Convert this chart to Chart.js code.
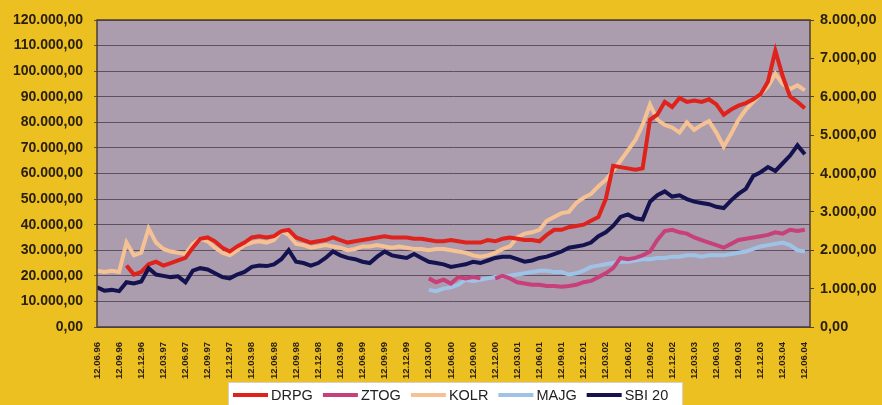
<!DOCTYPE html>
<html>
<head>
<meta charset="utf-8">
<script src="https://cdn.jsdelivr.net/npm/chart.js@4"></script>
<style>
  body { margin: 0; background: #ecc020; }
  #wrap { width: 882px; height: 405px; }
</style>
</head>
<body>
<div id="wrap"><canvas id="c" width="882" height="405"></canvas></div>
<script>
// quarterly tick labels, one every 3 months starting 12.06.96
var tickLabels = [
  '12.06.96','12.09.96','12.12.96','12.03.97','12.06.97','12.09.97','12.12.97',
  '12.03.98','12.06.98','12.09.98','12.12.98','12.03.99','12.06.99','12.09.99',
  '12.12.99','12.03.00','12.06.00','12.09.00','12.12.00','12.03.01','12.06.01',
  '12.09.01','12.12.01','12.03.02','12.06.02','12.09.02','12.12.02','12.03.03',
  '12.06.03','12.09.03','12.12.03','12.03.04','12.06.04'
];

// monthly values, index 0 = June 1996 (left axis)
var drpg = [
  null, null, null, null, 24000, 20500, 21500, 24500, 25500, 24000,
  25000, 26000, 27000, 31000, 34500, 35000, 33500, 31000, 29500, 31500,
  33000, 35000, 35500, 35000, 35500, 37500, 38000, 35000, 34000, 33000,
  33500, 34000, 35000, 34000, 33000, 33500, 34000, 34500, 35000, 35500,
  35000, 35000, 35000, 34500, 34500, 34000, 33500, 33500, 34000, 33500,
  33000, 33000, 33000, 34000, 33500, 34500, 35000, 34500, 34000, 34000,
  33500, 36000, 38000, 38000, 39000, 39500, 40000, 41500, 43000, 50000,
  63000, 62500, 62000, 61500, 62000, 81000, 83000, 88000, 86000, 89500,
  88000, 88500, 88000, 89000, 87000, 83000, 85000, 86500, 87500, 89000,
  91000, 96000, 108000, 98000, 90000, 88000, 85500
];
var ztog = [
  null, null, null, null, null, null, null, null, null, null,
  null, null, null, null, null, null, null, null, null, null,
  null, null, null, null, null, null, null, null, null, null,
  null, null, null, null, null, null, null, null, null, null,
  null, null, null, null, null, 19000, 17500, 18500, 17000, 19500,
  19000, 19500, 19000, null, 19000, 20000, 19000, 17500, 17000, 16500,
  16500, 16000, 16000, 15700, 16000, 16500, 17500, 18000, 19500, 21000,
  23000, 27000, 26500, 27000, 28000, 29500, 34000, 37500, 38000, 37000,
  36500, 35000, 34000, 33000, 32000, 31000, 32500, 34000, 34500, 35000,
  35500, 36000, 37000, 36500, 38000, 37500, 38000
];
var kolr = [
  22000, 21500, 22000, 21500, 33000, 28000, 29000, 38500, 33000, 30500,
  29500, 29000, 28500, 32500, 34500, 33500, 31000, 29000, 28000, 30000,
  32000, 33000, 33500, 33000, 34000, 37500, 36000, 32500, 32000, 31000,
  31500, 32000, 31500, 31000, 30000, 30500, 31500, 31500, 32000, 31500,
  31000, 31500, 31000, 30500, 30500, 30000, 30500, 30500, 30000, 29500,
  29000, 28000, 27500, 28000, 29000, 30500, 31500, 35000, 36500, 37000,
  38000, 41500, 43000, 44500, 45000, 48500, 50500, 52000, 55000, 57500,
  61000, 65000, 69000, 73000, 79000, 87000, 81000, 79000, 78000, 76000,
  80000, 77000, 79000, 80500, 76000, 70500, 75500, 81000, 85000, 88000,
  91000, 94000, 99000, 95000, 93000, 94500, 92500
];
var majg = [
  null, null, null, null, null, null, null, null, null, null,
  null, null, null, null, null, null, null, null, null, null,
  null, null, null, null, null, null, null, null, null, null,
  null, null, null, null, null, null, null, null, null, null,
  null, null, null, null, null, 14500, 14000, 15000, 15500, 16500,
  18500, 18000, 18500, 19000, 19500, 19500, 20000, 20500, 21000, 21500,
  22000, 22000, 21500, 21500, 20500, 21000, 22000, 23500, 24000, 24500,
  25000, 25500, 25500, 26000, 26500, 26500, 27000, 27000, 27500, 27500,
  28000, 28000, 27500, 28000, 28000, 28000, 28500, 29000, 29500, 30500,
  31500, 32000, 32500, 33000, 32000, 30000, 29500
];
// SBI 20 index, right axis
var sbi20 = [
  1033, 947, 967, 933, 1167, 1133, 1187, 1533, 1367, 1333,
  1300, 1320, 1167, 1467, 1533, 1500, 1400, 1300, 1267, 1367,
  1433, 1567, 1600, 1587, 1633, 1767, 2000, 1700, 1667, 1600,
  1667, 1800, 1967, 1867, 1800, 1767, 1700, 1667, 1833, 1967,
  1867, 1833, 1800, 1900, 1800, 1700, 1667, 1633, 1567, 1600,
  1633, 1700, 1667, 1733, 1800, 1833, 1833, 1767, 1700, 1733,
  1800, 1833, 1900, 1967, 2067, 2100, 2133, 2200, 2367, 2467,
  2633, 2867, 2933, 2833, 2800, 3267, 3433, 3533, 3400, 3433,
  3333, 3267, 3233, 3200, 3133, 3100, 3300, 3467, 3600, 3933,
  4033, 4167, 4067, 4267, 4467, 4733, 4500
];

var FONT = "'Liberation Sans', Arial, sans-serif";
var TXT = '#2b2010';

function pts(arr){
  return arr.map(function(v, i){ return {x: i, y: v}; });
}
function fmt(v){
  var s = Math.round(v).toString().replace(/\B(?=(\d{3})+(?!\d))/g, '.');
  return s + ',00';
}

var bgPlugin = {
  id: 'bg',
  beforeDraw: function(chart){
    var ctx = chart.ctx, a = chart.chartArea;
    ctx.save();
    ctx.fillStyle = '#ecc020';
    ctx.fillRect(0, 0, chart.width, chart.height);
    ctx.fillStyle = '#ab9dad';
    ctx.fillRect(a.left, a.top, a.right - a.left, a.bottom - a.top);
    ctx.restore();
  },
  afterDatasetsDraw: function(chart){
    var ctx = chart.ctx, a = chart.chartArea;
    ctx.save();
    ctx.strokeStyle = '#4a3d35';
    ctx.lineWidth = 1.5;
    ctx.strokeRect(a.left, a.top, a.right - a.left, a.bottom - a.top);
    ctx.restore();
  },
  // legend in a white box under the axis labels
  afterDraw: function(chart){
    var ctx = chart.ctx;
    ctx.save();
    ctx.fillStyle = '#ffffff';
    ctx.fillRect(228, 382, 454, 30);
    ctx.strokeStyle = '#d8d0c0';
    ctx.lineWidth = 1;
    ctx.strokeRect(228.5, 382.5, 454, 30);
    ctx.font = '14.5px ' + FONT;
    ctx.textBaseline = 'middle';
    var x = 233, y = 395;
    chart.data.datasets.forEach(function(d){
      ctx.fillStyle = d.borderColor;
      ctx.fillRect(x, y - 2, 35, 4);
      x += 38;
      ctx.fillStyle = '#222222';
      ctx.fillText(d.label, x, y + 1);
      x += ctx.measureText(d.label).width + 10;
    });
    ctx.restore();
  }
};

function ds(label, arr, color, axis, order){
  return {
    label: label, data: pts(arr), yAxisID: axis, order: order,
    borderColor: color, backgroundColor: color,
    borderWidth: 4, pointRadius: 0, tension: 0, spanGaps: false
  };
}

new Chart(document.getElementById('c'), {
  type: 'line',
  data: {
    datasets: [
      ds('DRPG', drpg, '#e0221c', 'y', 2),
      ds('ZTOG', ztog, '#c8407a', 'y', 3),
      ds('KOLR', kolr, '#f6c293', 'y', 4),
      ds('MAJG', majg, '#9fc3e6', 'y', 5),
      ds('SBI 20', sbi20, '#15134f', 'y2', 1)
    ]
  },
  options: {
    responsive: false,
    animation: false,
    layout: { padding: { left: 0, right: 0, top: 20, bottom: 0 } },
    plugins: {
      tooltip: { enabled: false },
      legend: { display: false }
    },
    scales: {
      x: {
        type: 'linear', min: 0, max: 96.7,
        grid: { display: false },
        border: { display: false },
        afterFit: function(s){ s.height = 78; },
        ticks: {
          stepSize: 3, includeBounds: false, autoSkip: false,
          minRotation: 90, maxRotation: 90, padding: 7,
          color: TXT, font: { family: FONT, size: 9.5, weight: 'bold' },
          callback: function(v){
            return (v % 3 === 0) ? (tickLabels[v / 3] || '') : '';
          }
        }
      },
      y: {
        position: 'left', min: 0, max: 120000,
        afterFit: function(s){ s.width = 97; },
        border: { display: false },
        grid: { color: '#5d5160', lineWidth: 1, tickLength: 3 },
        ticks: {
          stepSize: 10000, padding: 11,
          color: TXT, font: { family: FONT, size: 14, weight: 'bold' },
          callback: function(v){ return fmt(v); }
        }
      },
      y2: {
        position: 'right', min: 0, max: 8000,
        afterFit: function(s){ s.width = 72; },
        border: { display: false },
        grid: { drawOnChartArea: false, color: '#4a3d35', tickLength: 4 },
        ticks: {
          stepSize: 1000, padding: 6,
          color: TXT, font: { family: FONT, size: 14.5, weight: 'bold' },
          callback: function(v){ return fmt(v); }
        }
      }
    }
  },
  plugins: [bgPlugin]
});
</script>
</body>
</html>
